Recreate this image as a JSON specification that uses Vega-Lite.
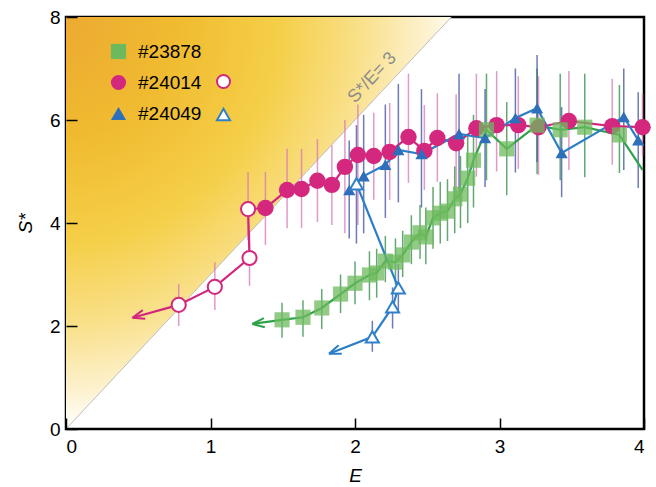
{
 "$schema": "https://vega.github.io/schema/vega-lite/v6.json",
 "width": 578, "height": 412,
 "padding": {"left": 66, "top": 17, "right": 12, "bottom": 58},
 "autosize": {"type": "none"},
 "background": "white",
 "config": {
   "view": {"stroke": "black", "strokeWidth": 2.5},
   "axis": {"grid": false, "domain": false, "labelFont": "Liberation Sans", "labelFontSize": 19, "labelColor": "black", "titleFont": "Liberation Sans", "titleFontSize": 19, "titleFontStyle": "italic", "titleFontWeight": "normal", "titleColor": "black"},
   "legend": {"labelFont": "Liberation Sans", "labelFontSize": 19, "labelColor": "black", "symbolSize": 230, "rowPadding": 11, "labelOffset": 10, "padding": 0}
 },
 "datasets": {
  "pts": [
   {"s":"#24014","o":1,"E":3.99,"S":5.86,"lo":5.3,"hi":6.5,"f":"filled"},
   {"s":"#24014","o":2,"E":3.78,"S":5.88,"lo":5.13,"hi":6.8,"f":"filled"},
   {"s":"#24014","o":3,"E":3.48,"S":5.98,"lo":5.03,"hi":6.95,"f":"filled"},
   {"s":"#24014","o":4,"E":3.27,"S":5.86,"lo":4.93,"hi":6.85,"f":"filled"},
   {"s":"#24014","o":5,"E":3.13,"S":5.9,"lo":5.05,"hi":6.85,"f":"filled"},
   {"s":"#24014","o":6,"E":2.98,"S":5.9,"lo":5.0,"hi":6.95,"f":"filled"},
   {"s":"#24014","o":7,"E":2.84,"S":5.84,"lo":4.9,"hi":6.9,"f":"filled"},
   {"s":"#24014","o":8,"E":2.7,"S":5.55,"lo":4.58,"hi":6.5,"f":"filled"},
   {"s":"#24014","o":9,"E":2.57,"S":5.65,"lo":4.8,"hi":6.52,"f":"filled"},
   {"s":"#24014","o":10,"E":2.48,"S":5.4,"lo":4.64,"hi":6.29,"f":"filled"},
   {"s":"#24014","o":11,"E":2.37,"S":5.67,"lo":4.78,"hi":6.9,"f":"filled"},
   {"s":"#24014","o":12,"E":2.24,"S":5.38,"lo":4.45,"hi":6.33,"f":"filled"},
   {"s":"#24014","o":13,"E":2.13,"S":5.3,"lo":4.45,"hi":6.14,"f":"filled"},
   {"s":"#24014","o":14,"E":2.02,"S":5.32,"lo":3.96,"hi":6.3,"f":"filled"},
   {"s":"#24014","o":15,"E":1.93,"S":5.09,"lo":3.8,"hi":6.0,"f":"filled"},
   {"s":"#24014","o":16,"E":1.84,"S":4.74,"lo":3.96,"hi":5.51,"f":"filled"},
   {"s":"#24014","o":17,"E":1.74,"S":4.82,"lo":4.02,"hi":5.63,"f":"filled"},
   {"s":"#24014","o":18,"E":1.63,"S":4.66,"lo":3.9,"hi":5.44,"f":"filled"},
   {"s":"#24014","o":19,"E":1.53,"S":4.64,"lo":3.9,"hi":5.44,"f":"filled"},
   {"s":"#24014","o":20,"E":1.38,"S":4.29,"lo":3.57,"hi":4.99,"f":"filled"},
   {"s":"#24014","o":21,"E":1.26,"S":4.27,"lo":3.67,"hi":4.99,"f":"open"},
   {"s":"#24014","o":22,"E":1.27,"S":3.32,"lo":2.78,"hi":3.86,"f":"open"},
   {"s":"#24014","o":23,"E":1.03,"S":2.76,"lo":2.31,"hi":3.24,"f":"open"},
   {"s":"#24014","o":24,"E":0.78,"S":2.41,"lo":2.0,"hi":2.82,"f":"open"},
   {"s":"#24014","o":25,"E":0.46,"S":2.16,"f":"tip"},
   {"s":"#23878","o":1,"E":3.99,"S":5.03,"f":"none"},
   {"s":"#23878","o":2,"E":3.83,"S":5.71,"lo":4.97,"hi":6.68,"f":"filled"},
   {"s":"#23878","o":3,"E":3.59,"S":5.86,"lo":4.89,"hi":6.9,"f":"filled"},
   {"s":"#23878","o":4,"E":3.42,"S":5.81,"lo":4.83,"hi":6.9,"f":"filled"},
   {"s":"#23878","o":5,"E":3.26,"S":5.9,"lo":4.95,"hi":7.0,"f":"filled"},
   {"s":"#23878","o":6,"E":3.05,"S":5.44,"lo":4.54,"hi":6.35,"f":"filled"},
   {"s":"#23878","o":7,"E":2.91,"S":5.81,"lo":4.83,"hi":6.9,"f":"filled"},
   {"s":"#23878","o":8,"E":2.82,"S":5.22,"lo":4.3,"hi":6.1,"f":"filled"},
   {"s":"#23878","o":9,"E":2.78,"S":4.87,"lo":4.0,"hi":5.7,"f":"filled"},
   {"s":"#23878","o":10,"E":2.73,"S":4.56,"lo":3.9,"hi":5.3,"f":"filled"},
   {"s":"#23878","o":11,"E":2.69,"S":4.47,"lo":3.8,"hi":5.1,"f":"filled"},
   {"s":"#23878","o":12,"E":2.64,"S":4.23,"lo":3.65,"hi":4.85,"f":"filled"},
   {"s":"#23878","o":13,"E":2.59,"S":4.19,"lo":3.6,"hi":4.8,"f":"filled"},
   {"s":"#23878","o":14,"E":2.54,"S":4.1,"lo":3.5,"hi":4.7,"f":"filled"},
   {"s":"#23878","o":15,"E":2.49,"S":3.73,"lo":3.2,"hi":4.3,"f":"filled"},
   {"s":"#23878","o":16,"E":2.45,"S":3.81,"lo":3.3,"hi":4.35,"f":"filled"},
   {"s":"#23878","o":17,"E":2.39,"S":3.63,"lo":3.2,"hi":4.15,"f":"filled"},
   {"s":"#23878","o":18,"E":2.33,"S":3.38,"lo":2.95,"hi":3.85,"f":"filled"},
   {"s":"#23878","o":19,"E":2.28,"S":3.24,"lo":2.8,"hi":3.7,"f":"filled"},
   {"s":"#23878","o":20,"E":2.21,"S":3.26,"lo":2.85,"hi":3.75,"f":"filled"},
   {"s":"#23878","o":21,"E":2.15,"S":3.03,"lo":2.55,"hi":3.5,"f":"filled"},
   {"s":"#23878","o":22,"E":2.1,"S":2.99,"lo":2.5,"hi":3.45,"f":"filled"},
   {"s":"#23878","o":23,"E":2.0,"S":2.83,"lo":2.42,"hi":3.25,"f":"filled"},
   {"s":"#23878","o":24,"E":1.9,"S":2.62,"lo":2.25,"hi":3.0,"f":"filled"},
   {"s":"#23878","o":25,"E":1.77,"S":2.35,"lo":1.94,"hi":2.72,"f":"filled"},
   {"s":"#23878","o":26,"E":1.64,"S":2.17,"lo":1.79,"hi":2.5,"f":"filled"},
   {"s":"#23878","o":27,"E":1.495,"S":2.12,"lo":1.77,"hi":2.45,"f":"filled"},
   {"s":"#23878","o":28,"E":1.29,"S":2.04,"f":"tip"},
   {"s":"#24049","o":1,"E":3.96,"S":5.61,"lo":4.68,"hi":6.54,"f":"filled"},
   {"s":"#24049","o":2,"E":3.86,"S":6.06,"lo":5.03,"hi":7.0,"f":"filled"},
   {"s":"#24049","o":3,"E":3.43,"S":5.36,"lo":4.5,"hi":6.25,"f":"filled"},
   {"s":"#24049","o":4,"E":3.26,"S":6.23,"lo":5.18,"hi":7.26,"f":"filled"},
   {"s":"#24049","o":5,"E":3.11,"S":6.04,"lo":4.98,"hi":7.0,"f":"filled"},
   {"s":"#24049","o":6,"E":2.9,"S":5.65,"lo":4.7,"hi":6.6,"f":"filled"},
   {"s":"#24049","o":7,"E":2.72,"S":5.73,"lo":4.6,"hi":6.9,"f":"filled"},
   {"s":"#24049","o":8,"E":2.46,"S":5.34,"lo":4.3,"hi":6.6,"f":"filled"},
   {"s":"#24049","o":9,"E":2.3,"S":5.42,"lo":4.4,"hi":6.7,"f":"filled"},
   {"s":"#24049","o":10,"E":2.21,"S":5.13,"lo":4.1,"hi":6.3,"f":"filled"},
   {"s":"#24049","o":11,"E":2.06,"S":4.91,"lo":3.8,"hi":6.1,"f":"filled"},
   {"s":"#24049","o":12,"E":1.96,"S":4.64,"lo":3.7,"hi":5.6,"f":"filled"},
   {"s":"#24049","o":13,"E":2.01,"S":4.76,"lo":3.6,"hi":5.9,"f":"open"},
   {"s":"#24049","o":14,"E":2.3,"S":2.74,"lo":2.3,"hi":3.2,"f":"open"},
   {"s":"#24049","o":15,"E":2.26,"S":2.37,"lo":1.95,"hi":2.75,"f":"open"},
   {"s":"#24049","o":16,"E":2.12,"S":1.79,"lo":1.5,"hi":2.1,"f":"open"},
   {"s":"#24049","o":17,"E":1.82,"S":1.46,"f":"tip"}
  ]
 },
 "layer": [
  {
   "data": {"values": [{"E": 0, "t": 8, "b": 0}, {"E": 2.6667, "t": 8, "b": 8}]},
   "mark": {"type": "area", "clip": true, "color": {"gradient": "radial", "x1": 0, "y1": 0, "r1": 0, "x2": 0, "y2": 0, "r2": 1, "stops": [{"offset": 0, "color": "#eca832"}, {"offset": 0.3, "color": "#f0bb30"}, {"offset": 0.55, "color": "#f5cf48"}, {"offset": 0.75, "color": "#f9e08a"}, {"offset": 0.92, "color": "#fdf3d4"}, {"offset": 1, "color": "#ffffff"}]}},
   "encoding": {
    "x": {"field": "E", "type": "quantitative", "scale": {"domain": [0, 4], "nice": false}, "title": "E", "axis": {"values": [0, 1, 2, 3, 4], "format": "d", "ticks": true, "tickColor": "#000000", "tickWidth": 1.5, "tickSize": 11, "offset": -11, "zindex": 2, "labelPadding": 8, "titlePadding": 10}},
    "y": {"field": "t", "type": "quantitative", "scale": {"domain": [0, 8], "nice": false}, "title": "S*", "axis": {"values": [0, 2, 4, 6, 8], "format": "d", "ticks": true, "tickColor": "#000000", "tickWidth": 1.5, "tickSize": 11, "offset": -11, "zindex": 2, "labelPadding": 6, "titlePadding": 14}},
    "y2": {"field": "b"}
   }
  },
  {
   "data": {"values": [{}]},
   "mark": {"type": "rule", "color": "#bdbdbd", "strokeWidth": 1},
   "encoding": {
    "x": {"datum": 0, "type": "quantitative", "scale": {"domain": [0, 4], "nice": false}},
    "y": {"datum": 0, "type": "quantitative", "scale": {"domain": [0, 8], "nice": false}},
    "x2": {"datum": 2.6667},
    "y2": {"datum": 8}
   }
  },
  {
   "data": {"values": [{}]},
   "mark": {"type": "text", "text": "S*/E= 3", "angle": -47, "font": "Liberation Sans", "fontSize": 18, "color": "#8c8c8c", "align": "center", "baseline": "middle"},
   "encoding": {
    "x": {"datum": 2.12, "type": "quantitative", "scale": {"domain": [0, 4], "nice": false}},
    "y": {"datum": 6.82, "type": "quantitative", "scale": {"domain": [0, 8], "nice": false}}
   }
  },
  {
   "data": {"name": "pts"},
   "transform": [{"filter": "isValid(datum.lo)"}],
   "mark": {"type": "rule", "strokeWidth": 1.5, "opacity": 0.75},
   "encoding": {
    "x": {"field": "E", "type": "quantitative", "scale": {"domain": [0, 4], "nice": false}},
    "y": {"field": "lo", "type": "quantitative", "scale": {"domain": [0, 8], "nice": false}},
    "y2": {"field": "hi"},
    "color": {"condition": [{"test": "datum.s === '#23878'", "value": "#2e8b43"}, {"test": "datum.s === '#24014'", "value": "#d877b5"}], "value": "#3a4f9f"}
   }
  },
  {
   "data": {"name": "pts"},
   "mark": {"type": "line", "strokeWidth": 2.2},
   "encoding": {
    "x": {"field": "E", "type": "quantitative", "scale": {"domain": [0, 4], "nice": false}},
    "y": {"field": "S", "type": "quantitative", "scale": {"domain": [0, 8], "nice": false}},
    "order": {"field": "o", "type": "quantitative"},
    "detail": {"field": "s", "type": "nominal"},
    "color": {"condition": [{"test": "datum.s === '#23878'", "value": "#2ea24a"}, {"test": "datum.s === '#24014'", "value": "#d2267e"}], "value": "#2c7fc7"}
   }
  },
  {
   "data": {"name": "pts"},
   "transform": [{"filter": "datum.f === 'tip'"}],
   "mark": {"type": "point", "shape": "M0,0L2,-0.75M0,0L2,0.75", "filled": false, "strokeWidth": 2, "size": 144, "opacity": 1},
   "encoding": {
    "x": {"field": "E", "type": "quantitative", "scale": {"domain": [0, 4], "nice": false}},
    "y": {"field": "S", "type": "quantitative", "scale": {"domain": [0, 8], "nice": false}},
    "angle": {"condition": [{"test": "datum.s === '#23878'", "value": -6}, {"test": "datum.s === '#24014'", "value": -16}], "value": -21},
    "stroke": {"condition": [{"test": "datum.s === '#23878'", "value": "#2ea24a"}, {"test": "datum.s === '#24014'", "value": "#d2267e"}], "value": "#2c7fc7"}
   }
  },
  {
   "data": {"name": "pts"},
   "transform": [{"filter": "datum.f === 'filled'"}],
   "mark": {"type": "point", "filled": true, "strokeWidth": 0},
   "encoding": {
    "x": {"field": "E", "type": "quantitative", "scale": {"domain": [0, 4], "nice": false}},
    "y": {"field": "S", "type": "quantitative", "scale": {"domain": [0, 8], "nice": false}},
    "color": {"field": "s", "type": "nominal", "scale": {"domain": ["#23878", "#24014", "#24049"], "range": ["#6dba5e", "#d4287f", "#2e6fbb"]}, "legend": {"orient": "none", "legendX": 43, "legendY": 25, "title": null, "symbolStrokeWidth": 0}},
    "shape": {"field": "s", "type": "nominal", "scale": {"domain": ["#23878", "#24014", "#24049"], "range": ["square", "circle", "triangle-up"]}, "legend": {"orient": "none", "legendX": 43, "legendY": 25, "title": null, "symbolStrokeWidth": 0}},
    "size": {"condition": [{"test": "datum.s === '#24014'", "value": 270}, {"test": "datum.s === '#23878'", "value": 230}], "value": 150},
    "opacity": {"condition": {"test": "datum.s === '#23878'", "value": 0.75}, "value": 1}
   }
  },
  {
   "data": {"name": "pts"},
   "transform": [{"filter": "datum.f === 'open'"}],
   "mark": {"type": "point", "fill": "white", "strokeWidth": 2, "opacity": 1},
   "encoding": {
    "x": {"field": "E", "type": "quantitative", "scale": {"domain": [0, 4], "nice": false}},
    "y": {"field": "S", "type": "quantitative", "scale": {"domain": [0, 8], "nice": false}},
    "stroke": {"field": "s", "type": "nominal", "scale": {"domain": ["#24014", "#24049"], "range": ["#d4287f", "#2f80c8"]}, "legend": {"orient": "none", "legendX": 148, "legendY": 55, "title": null, "labelExpr": "''", "symbolFillColor": "white", "symbolStrokeWidth": 2, "symbolSize": 170}},
    "shape": {"field": "s", "type": "nominal", "scale": {"domain": ["#24014", "#24049"], "range": ["circle", "triangle-up"]}, "legend": {"orient": "none", "legendX": 148, "legendY": 55, "title": null, "labelExpr": "''", "symbolFillColor": "white", "symbolStrokeWidth": 2, "symbolSize": 170}},
    "size": {"condition": {"test": "datum.s === '#24014'", "value": 200}, "value": 170}
   }
  }
 ],
 "resolve": {"scale": {"color": "independent", "shape": "independent", "stroke": "independent"}}
}
